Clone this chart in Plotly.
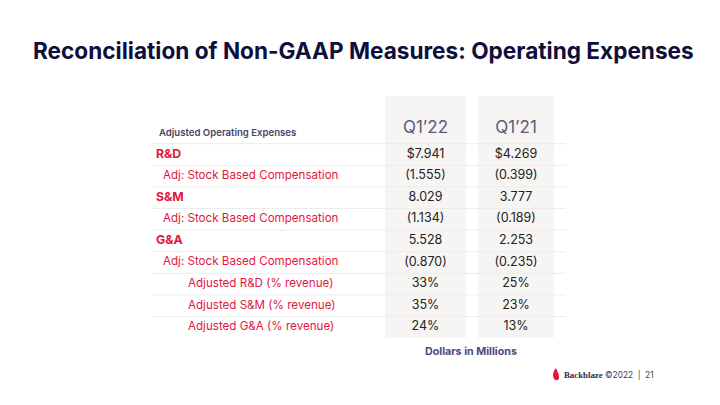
import plotly.graph_objects as go

# ---- data ----
title = "Reconciliation of Non-GAAP Measures: Operating Expenses"
section_header = "Adjusted Operating Expenses"
periods = ["Q1\u201922", "Q1\u201921"]
row_labels = [
    "R&D",
    "Adj: Stock Based Compensation",
    "S&M",
    "Adj: Stock Based Compensation",
    "G&A",
    "Adj: Stock Based Compensation",
    "Adjusted R&D (% revenue)",
    "Adjusted S&M (% revenue)",
    "Adjusted G&A (% revenue)",
]
row_levels = [0, 1, 0, 1, 0, 1, 2, 2, 2]
q1_22 = ["$7.941", "(1.555)", "8.029", "(1.134)", "5.528", "(0.870)", "33%", "35%", "24%"]
q1_21 = ["$4.269", "(0.399)", "3.777", "(0.189)", "2.253", "(0.235)", "25%", "23%", "13%"]
note = "Dollars in Millions"
brand = "Backblaze"
footer = "\u00a92022  |  21"

# ---- layout constants ----
W, H = 720, 405
FONT = "Inter"
RED = "#e3173e"
DARK = "#222222"
NAVY = "#0e0f3a"
SLATE = "#5a5a7c"
LINE = "#ececec"
BG = "#f6f5f3"
row_y0 = 154.5
row_h = 21.6
col_x = [(385, 466), (478, 554)]
indent_x = {0: 156, 1: 163, 2: 188}

fig = go.Figure()
shapes = []
for x0, x1 in col_x:
    shapes.append(dict(type="rect", xref="x", yref="y", x0=x0, x1=x1, y0=96, y1=338,
                       fillcolor=BG, line=dict(width=0), layer="below"))
n = len(row_labels)
for i in range(n):
    y = row_y0 - row_h / 2 + i * row_h
    shapes.append(dict(type="line", xref="x", yref="y", x0=152, x1=566, y0=y, y1=y,
                       line=dict(color=LINE, width=1), layer="below"))

ys = [row_y0 + i * row_h for i in range(n)]
for lvl in (0, 1, 2):
    idx = [i for i in range(n) if row_levels[i] == lvl]
    fig.add_trace(go.Scatter(
        x=[indent_x[lvl]] * len(idx), y=[ys[i] for i in idx],
        text=[row_labels[i] for i in idx], mode="text", textposition="middle right",
        textfont=dict(family=FONT, size=12.3 if lvl == 0 else 11.6, color=RED,
                      weight=700 if lvl == 0 else 400),
        hoverinfo="skip", showlegend=False))

for (x0, x1), vals in zip(col_x, [q1_22, q1_21]):
    fig.add_trace(go.Scatter(
        x=[(x0 + x1) / 2] * n, y=ys, text=vals, mode="text", textposition="middle center",
        textfont=dict(family=FONT, size=12.5, color=DARK),
        hoverinfo="skip", showlegend=False))

fig.add_trace(go.Scatter(
    x=[(a + b) / 2 for a, b in col_x], y=[129, 129], text=periods, mode="text",
    textposition="middle center", textfont=dict(family=FONT, size=17, color=SLATE),
    hoverinfo="skip", showlegend=False))

annotations = [
    dict(x=363, y=50, text=title, showarrow=False, xref="x", yref="y",
         font=dict(family=FONT, size=22.6, color=NAVY, weight=700), xanchor="center", yanchor="middle"),
    dict(x=157, y=132.5, text=section_header, showarrow=False, xref="x", yref="y",
         font=dict(family=FONT, size=9.6, color="#45456a", weight=600), xanchor="left", yanchor="middle"),
    dict(x=471, y=351, text=note, showarrow=False, xref="x", yref="y",
         font=dict(family=FONT, size=10.7, color="#4a4a7a", weight=700), xanchor="center", yanchor="middle"),
    dict(x=561.5, y=374.5, text=brand, showarrow=False, xref="x", yref="y",
         font=dict(family="Liberation Serif", size=8.8, color="#2a2a44", weight=700), xanchor="left", yanchor="middle"),
    dict(x=603, y=374.5, text=footer, showarrow=False, xref="x", yref="y",
         font=dict(family=FONT, size=8.3, color="#3c3c5c"), xanchor="left", yanchor="middle"),
]
shapes.append(dict(type="path", xref="x", yref="y",
                   path="M 556 368 C 553 371 552.5 375 553.5 378 C 555 381 558.5 381 559 378 C 559.5 375 557.5 372 556 368 Z",
                   fillcolor=RED, line=dict(width=0)))

fig.update_layout(
    width=W, height=H, margin=dict(l=0, r=0, t=0, b=0),
    paper_bgcolor="white", plot_bgcolor="white",
    xaxis=dict(range=[0, W], visible=False, fixedrange=True),
    yaxis=dict(range=[H, 0], visible=False, fixedrange=True),
    shapes=shapes, annotations=annotations,
)
fig.write_html("out.html", config={"displayModeBar": False, "staticPlot": True},
               post_script="document.body.style.margin='0';")
